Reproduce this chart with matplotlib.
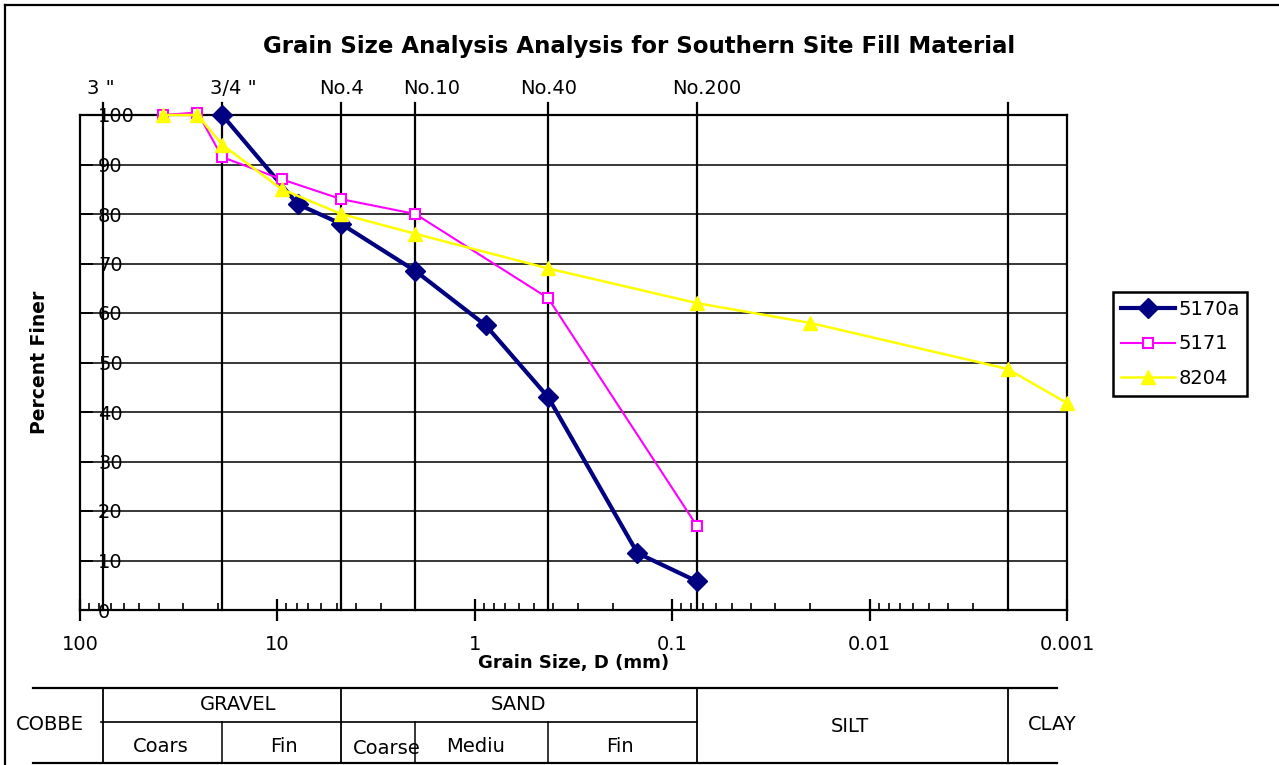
import matplotlib
matplotlib.use("Agg")
import matplotlib.pyplot as plt
import matplotlib.transforms as mtransforms
from matplotlib.lines import Line2D
from matplotlib.ticker import FixedLocator, LogLocator, NullFormatter

plt.rcParams['font.family'] = ['DejaVu Sans']

W, H = 1279, 765

# sample data (grain size mm, percent finer)
size_5170a = [19.05, 7.9, 4.75, 2.0, 0.88, 0.425, 0.15, 0.075]
pct_5170a = [100, 82, 78, 68.5, 57.5, 43, 11.5, 5.8]

size_5171 = [38.1, 25.4, 19.05, 9.5, 4.75, 2.0, 0.425, 0.075]
pct_5171 = [100, 100.5, 91.5, 87, 83, 80, 63, 17]

size_8204 = [38.1, 25.4, 19.05, 9.5, 4.75, 2.0, 0.425, 0.075, 0.02, 0.002, 0.001]
pct_8204 = [100, 100, 94, 85, 80, 76, 69, 62, 58, 48.7, 41.8]

# sieve lines along the top
sieve_sizes = [76.2, 19.05, 4.75, 2.0, 0.425, 0.075]
sieve_names = ['3 "', '3/4 "', 'No.4', 'No.10', 'No.40', 'No.200']
sieve_dx = [-2, 11, 0, 16, 0, 10]   # label nudge in pixels

xticks = [100, 10, 1, 0.1, 0.01, 0.001]
xtick_labels = ['100', '10', '1', '0.1', '0.01', '0.001']
yticks = list(range(0, 101, 10))


def fx(px):
    return px / W


def fy(py):
    return 1 - py / H


fig = plt.figure(figsize=(W / 100, H / 100), dpi=100)
ax = fig.add_axes([fx(80), fy(610), fx(1067) - fx(80), fy(115) - fy(610)])

ax.set_xscale('log')
ax.set_xlim(100, 0.001)
ax.set_ylim(0, 100)

for y in yticks:
    ax.axhline(y, color='black', lw=1.1, zorder=1)
for s in sieve_sizes + [0.002]:
    ax.axvline(s, ymin=0, ymax=1.025, color='black', lw=1.6,
               clip_on=False, zorder=1)

ax.plot(size_5170a, pct_5170a, color='#000080', lw=3, marker='D', ms=10.5,
        label='5170a', zorder=3, clip_on=False)
ax.plot(size_5171, pct_5171, color='#FF00FF', lw=1.5, marker='s', ms=7,
        mfc='white', mec='#FF00FF', mew=1.5, label='5171', zorder=4, clip_on=False)
ax.plot(size_8204, pct_8204, color='#FFFF00', lw=1.8, marker='^', ms=10,
        label='8204', zorder=5, clip_on=False)

for sp in ax.spines.values():
    sp.set_linewidth(1.6)

ax.xaxis.set_major_locator(FixedLocator(xticks))
ax.set_xticklabels(xtick_labels, fontsize=14)
ax.xaxis.set_minor_locator(LogLocator(base=10, subs=range(2, 10)))
ax.xaxis.set_minor_formatter(NullFormatter())
ax.tick_params(axis='x', which='major', direction='inout', length=16, width=1.6, pad=10)
ax.tick_params(axis='x', which='minor', direction='in', length=5, width=1.2)

ax.set_yticks(yticks)
ax.tick_params(axis='y', which='major', direction='in', length=9, width=1.3,
               labelsize=14, pad=-13)
for lab in ax.get_yticklabels():
    lab.set_horizontalalignment('left')

ax.set_xlabel('Grain Size, D (mm)', fontsize=13, fontweight='bold', labelpad=0)
ax.set_ylabel('Percent Finer', fontsize=13.5, fontweight='bold', labelpad=22)

for s, name, dx in zip(sieve_sizes, sieve_names, sieve_dx):
    ax.annotate(name, xy=(s, 1), xycoords=('data', 'axes fraction'),
                xytext=(dx, 27), textcoords='offset pixels',
                ha='center', va='center', fontsize=14)

fig.text(0.5, fy(47), 'Grain Size Analysis Analysis for Southern Site Fill Material',
         ha='center', va='center', fontsize=16.5, fontweight='bold')

leg = ax.legend(loc='upper left', bbox_to_anchor=(fx(1113), fy(292)),
                bbox_transform=fig.transFigure, fontsize=14, frameon=True,
                fancybox=False, edgecolor='black', framealpha=1,
                handlelength=2.8, handletextpad=0.15, borderpad=0.4,
                labelspacing=0.8, borderaxespad=0)
leg.get_frame().set_linewidth(1.8)

# soil classification table under the axis
tr = mtransforms.blended_transform_factory(ax.transData, fig.transFigure)
y_top, y_mid, y_bot = fy(688), fy(722), fy(763)
for y0 in (y_top, y_bot):
    fig.add_artist(Line2D([fx(33), fx(1057)], [y0, y0], color='black', lw=1.6))
fig.add_artist(Line2D([fx(101), fx(697)], [y_mid, y_mid], color='black', lw=1.2))
full_bounds = [76.2, 4.75, 0.075, 0.002]
half_bounds = [19.05, 2.0, 0.425]
for b in full_bounds:
    fig.add_artist(Line2D([b, b], [y_top, y_bot], color='black', lw=1.3, transform=tr))
for b in half_bounds:
    fig.add_artist(Line2D([b, b], [y_mid, y_bot], color='black', lw=1.1, transform=tr))

table_text = [('COBBE', 50, 725), ('GRAVEL', 238, 704), ('SAND', 518, 704),
              ('Coars', 161, 746), ('Fin', 284, 746), ('Coarse', 387, 748),
              ('Mediu', 476, 746), ('Fin', 620, 746), ('SILT', 850, 727),
              ('CLAY', 1052, 725)]
for t, px, py in table_text:
    fig.text(fx(px), fy(py), t, ha='center', va='center', fontsize=14)

# outer frame (left and top edges)
fig.add_artist(Line2D([fx(5), fx(5)], [0, fy(5)], color='black', lw=1.6))
fig.add_artist(Line2D([fx(5), 1], [fy(5), fy(5)], color='black', lw=1.6))

fig.savefig('out.png', dpi=100)
